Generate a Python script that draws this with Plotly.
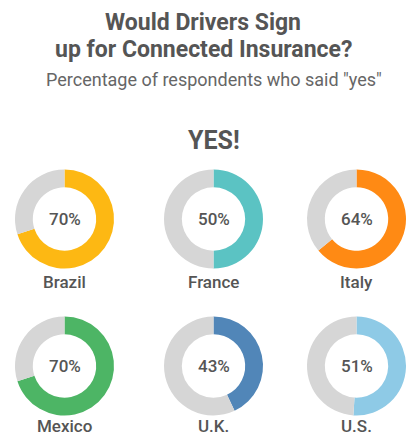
import plotly.graph_objects as go

# Survey results: share of respondents who said "yes"
countries = ["Brazil", "France", "Italy", "Mexico", "U.K.", "U.S."]
yes_pct = [70, 50, 64, 70, 43, 51]
colors = ["#FDB813", "#5BC3C3", "#FF8A14", "#4DB565", "#5186B8", "#8ECAE6"]
rest_color = "#D6D6D6"

W, H = 406, 438
R = 49.5
col_x = [64.5, 213.5, 356.5]
row_y = [219, 366]
name_y = [282, 426]
TEXT = "#555555"
FONT = "Roboto"


def label(text, px, py, size, weight=400, color=TEXT):
    fig.add_annotation(x=px / W, y=1 - py / H, xref="paper", yref="paper",
                       xanchor="center", yanchor="middle",
                       text=text, showarrow=False,
                       font=dict(family=FONT, size=size, color=color, weight=weight))


fig = go.Figure()
for i, (name, v, c) in enumerate(zip(countries, yes_pct, colors)):
    cx = col_x[i % 3]
    cy = row_y[i // 3]
    fig.add_trace(go.Pie(
        values=[v, 100 - v],
        labels=["Yes", "Other"],
        marker=dict(colors=[c, rest_color], line=dict(width=0)),
        hole=0.64,
        sort=False,
        direction="clockwise",
        rotation=0,
        textinfo="none",
        hovertemplate=name + ": %{value}%<extra></extra>",
        showlegend=False,
        domain=dict(x=[(cx - R) / W, (cx + R) / W],
                    y=[(H - cy - R) / H, (H - cy + R) / H]),
    ))
    label(f"{v}%", cx, cy, 17, 500)
    label(name, cx, name_y[i // 3], 17, 500)

# Headings
label("Would Drivers Sign", 203, 22, 23, 700)
label("up for Connected Insurance?", 203, 50, 23, 700)
label('Percentage of respondents who said "yes"', 214, 79, 18, 400, "#666666")
label("YES!", 214, 140, 25, 700)

fig.update_layout(width=W, height=H, margin=dict(l=0, r=0, t=0, b=0),
                  paper_bgcolor="white", plot_bgcolor="white")
fig.write_html("out.html")
